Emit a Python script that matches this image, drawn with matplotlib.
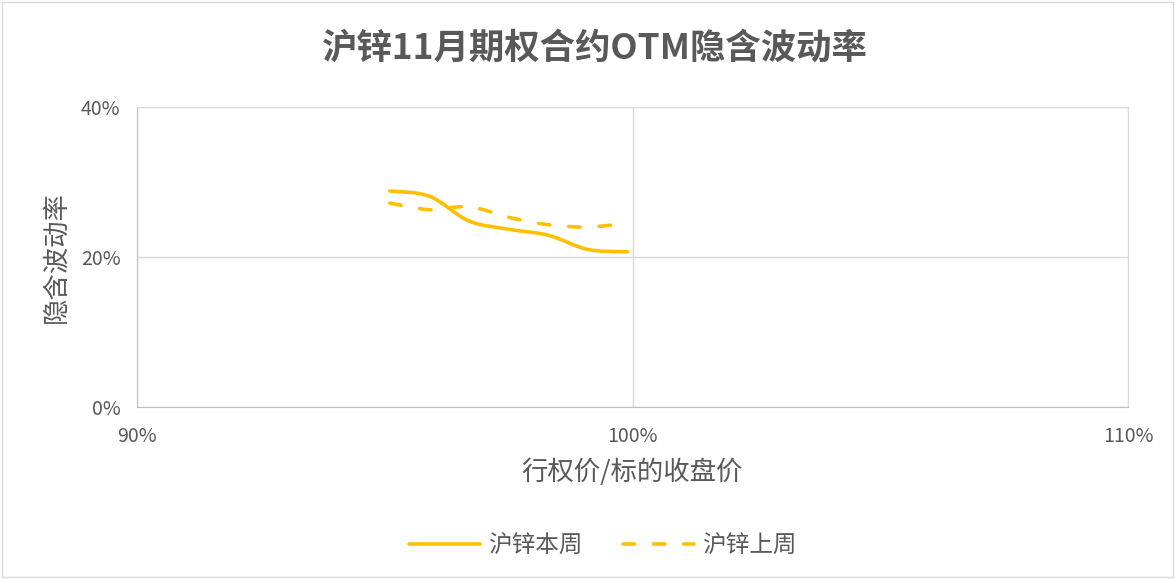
import numpy as np
import matplotlib
matplotlib.use("Agg")
import matplotlib.pyplot as plt
from matplotlib.path import Path
from matplotlib.patches import PathPatch
from matplotlib.lines import Line2D
from matplotlib.ticker import FuncFormatter

plt.rcParams['font.family'] = ['Noto Sans CJK SC', 'DejaVu Sans']

# 行权价/标的收盘价 (%)
moneyness = [95.1, 95.9, 96.7, 97.5, 98.3, 99.1, 99.9]
# 隐含波动率 (%)
iv_this_week = [28.8, 28.1, 24.8, 23.7, 22.9, 21.0, 20.7]
iv_last_week = [27.2, 26.3, 26.7, 25.3, 24.3, 24.0, 24.5]

title = "沪锌11月期权合约OTM隐含波动率"
xlabel = "行权价/标的收盘价"
ylabel = "隐含波动率"
labels = ["沪锌本周", "沪锌上周"]

color = "#FFC000"
grey = "#595959"
grid_c = "#d9d9d9"
dash = (0, (3.2, 5.2))


def smooth_path(x, y):
    # Excel-style smoothed line: Catmull-Rom segments as cubic Bezier
    x = np.asarray(x, float)
    y = np.asarray(y, float)
    verts = [(x[0], y[0])]
    codes = [Path.MOVETO]
    n = len(x)
    for i in range(n - 1):
        p0 = (x[max(i - 1, 0)], y[max(i - 1, 0)])
        p1 = (x[i], y[i])
        p2 = (x[i + 1], y[i + 1])
        p3 = (x[min(i + 2, n - 1)], y[min(i + 2, n - 1)])
        c1 = (p1[0] + (p2[0] - p0[0]) / 6, p1[1] + (p2[1] - p0[1]) / 6)
        c2 = (p2[0] - (p3[0] - p1[0]) / 6, p2[1] - (p3[1] - p1[1]) / 6)
        verts += [c1, c2, p2]
        codes += [Path.CURVE4] * 3
    return Path(verts, codes)


fig = plt.figure(figsize=(11.75, 5.79), dpi=100)
fig.patches.append(plt.Rectangle((0.002, 0.003), 0.996, 0.994, transform=fig.transFigure,
                                 fill=False, edgecolor=grid_c, linewidth=1))
ax = fig.add_axes([137 / 1175, 1 - 407 / 579, (1128 - 137) / 1175, 300 / 579])

ax.add_patch(PathPatch(smooth_path(moneyness, iv_this_week), fill=False,
                       edgecolor=color, linewidth=2.6, capstyle='round', joinstyle='round'))
ax.add_patch(PathPatch(smooth_path(moneyness, iv_last_week), fill=False,
                       edgecolor=color, linewidth=2.6, linestyle=dash, capstyle='round'))

ax.set_xlim(90, 110)
ax.set_ylim(0, 40)
ax.set_xticks([90, 100, 110])
ax.set_yticks([0, 20, 40])
pct = FuncFormatter(lambda v, p: f"{v:.0f}%")
ax.xaxis.set_major_formatter(pct)
ax.yaxis.set_major_formatter(pct)
ax.grid(True, color=grid_c, linewidth=1)
ax.set_axisbelow(True)
for s in ax.spines.values():
    s.set_color(grid_c)
ax.spines['left'].set_color("#bfbfbf")
ax.spines['bottom'].set_color("#bfbfbf")
ax.tick_params(length=0, labelsize=14, colors=grey)
ax.tick_params(axis='x', pad=14)
ax.tick_params(axis='y', pad=12)

ax.set_xlabel(xlabel, fontsize=19, color=grey, labelpad=8)
ax.set_ylabel(ylabel, fontsize=19, color=grey, labelpad=8)
fig.text(0.506, 1 - 48 / 579, title, ha='center', va='center', fontsize=25.5,
         fontweight='bold', color=grey)

handles = [Line2D([], [], color=color, linewidth=2.6, solid_capstyle='round'),
           Line2D([], [], color=color, linewidth=2.6, linestyle=dash, dash_capstyle='round')]
fig.legend(handles, labels, loc='center', bbox_to_anchor=(0.513, 1 - 546 / 579), ncol=2,
           frameon=False, fontsize=17, handlelength=3.0, columnspacing=1.7, handletextpad=0.35,
           labelcolor=grey)

fig.savefig("out.png", dpi=100)
